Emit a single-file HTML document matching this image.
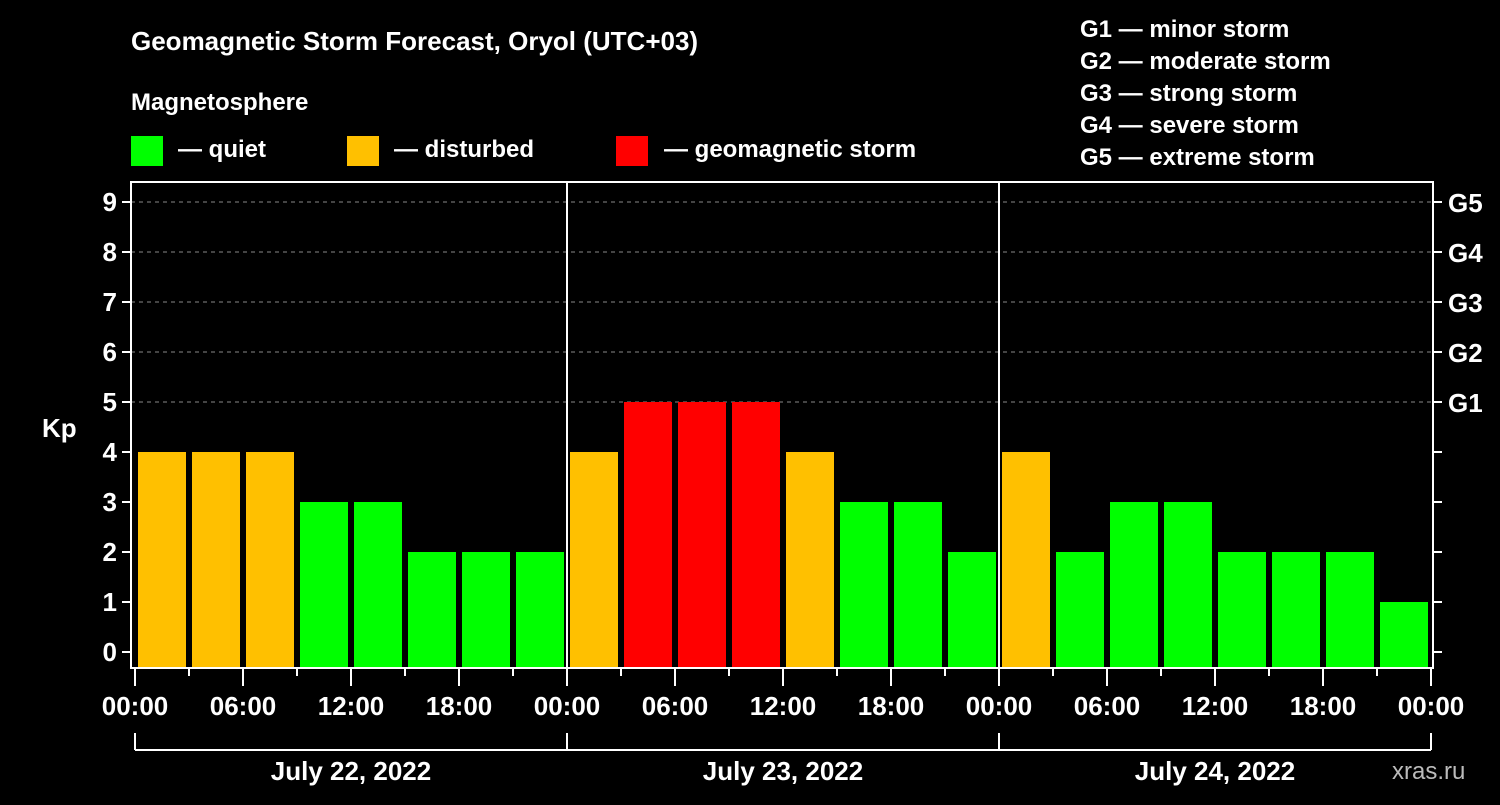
<!DOCTYPE html>
<html><head><meta charset="utf-8"><style>
body{margin:0;background:#000;width:1500px;height:800px;overflow:hidden}
svg{font-family:"Liberation Sans",Arial,sans-serif;font-weight:bold}
</style></head><body>
<svg id="c" width="1500" height="800">
<rect width="1500" height="800" fill="#000"/>
<text x="131" y="50" fill="#fff" font-size="26">Geomagnetic Storm Forecast, Oryol (UTC+03)</text>
<text x="131" y="110" fill="#fff" font-size="24">Magnetosphere</text>
<g><rect x="131" y="136" width="32" height="30" fill="#00ff00"/><text x="178" y="157" fill="#fff" font-size="24">— quiet</text></g>
<g><rect x="347" y="136" width="32" height="30" fill="#ffc000"/><text x="394" y="157" fill="#fff" font-size="24">— disturbed</text></g>
<g><rect x="616" y="136" width="32" height="30" fill="#ff0000"/><text x="664" y="157" fill="#fff" font-size="24">— geomagnetic storm</text></g>
<g fill="#fff" font-size="24">
<text x="1080" y="37">G1 — minor storm</text><text x="1080" y="69">G2 — moderate storm</text><text x="1080" y="101">G3 — strong storm</text><text x="1080" y="133">G4 — severe storm</text><text x="1080" y="165">G5 — extreme storm</text></g>
<text x="42" y="437" fill="#fff" font-size="26">Kp</text>
<text x="1392" y="779" fill="#bbb" font-size="24" font-weight="normal">xras.ru</text>
<g id="plot"></g>
</svg>
<script>
const days = ["July 22, 2022","July 23, 2022","July 24, 2022"];
const kpValues = [4,4,4,3,3,2,2,2, 4,5,5,5,4,3,3,2, 4,2,3,3,2,2,2,1];
const yTicks = [0,1,2,3,4,5,6,7,8,9];
const gLabels = ["G1","G2","G3","G4","G5"];
const xTickLabels = ["00:00","06:00","12:00","18:00"];
const NS="http://www.w3.org/2000/svg", g=document.getElementById('plot');
const X0=135, hourPx=18, L=131, R=1433, T=182, B=668;
const x = h => X0 + h*hourPx;
const y = v => 652 - v*50;
function mk(t,a,p){const e=document.createElementNS(NS,t);for(const k in a)e.setAttribute(k,a[k]);(p||g).appendChild(e);return e;}
function color(v){return v>=5?"#ff0000":v>=4?"#ffc000":"#00ff00";}
yTicks.forEach(v=>{
  if(v>=5){const l=mk('line',{x1:L,x2:R,y1:y(v),y2:y(v),stroke:'#888','stroke-dasharray':'4,4','stroke-width':1});
  
  }
  mk('line',{x1:L-9,x2:L,y1:y(v),y2:y(v),stroke:'#fff','stroke-width':2});
  mk('line',{x1:R,x2:R+9,y1:y(v),y2:y(v),stroke:'#fff','stroke-width':2});
  const t=mk('text',{x:L-14,y:y(v)+9,fill:'#fff','font-size':26,'text-anchor':'end'});t.textContent=v;
  
  
});
gLabels.forEach((s,i)=>{const t=mk('text',{x:R+15,y:y(i+5)+10,fill:'#fff','font-size':26});t.textContent=s;
  
  });
kpValues.forEach((v,i)=>{
  const b=mk('rect',{x:x(i*3)+3,y:y(v),width:48,height:B-1-y(v),fill:color(v)});
  
  
});
mk('rect',{x:L,y:T,width:R-L,height:B-T,fill:'none',stroke:'#fff','stroke-width':2});
for(let d=1;d<days.length;d++) mk('line',{x1:x(d*24),x2:x(d*24),y1:T,y2:B,stroke:'#fff','stroke-width':2});
for(let h=0;h<=72;h+=3){
  const major=h%6===0;
  mk('line',{x1:x(h),x2:x(h),y1:B,y2:B+(major?18:8),stroke:'#fff','stroke-width':2});
  if(major){const t=mk('text',{x:x(h),y:B+47,fill:'#fff','font-size':26,'text-anchor':'middle'});
    t.textContent=xTickLabels[(h/6)%4];
    
    }
}
mk('line',{x1:x(0),x2:x(72),y1:750,y2:750,stroke:'#fff','stroke-width':2});
days.forEach((d,i)=>{
  mk('line',{x1:x(i*24),x2:x(i*24),y1:733,y2:750,stroke:'#fff','stroke-width':2});
  const t=mk('text',{x:x(i*24+12),y:780,fill:'#fff','font-size':26,'text-anchor':'middle'});t.textContent=d;
  
  
});
mk('line',{x1:x(72),x2:x(72),y1:733,y2:750,stroke:'#fff','stroke-width':2});
</script>
</body></html>
